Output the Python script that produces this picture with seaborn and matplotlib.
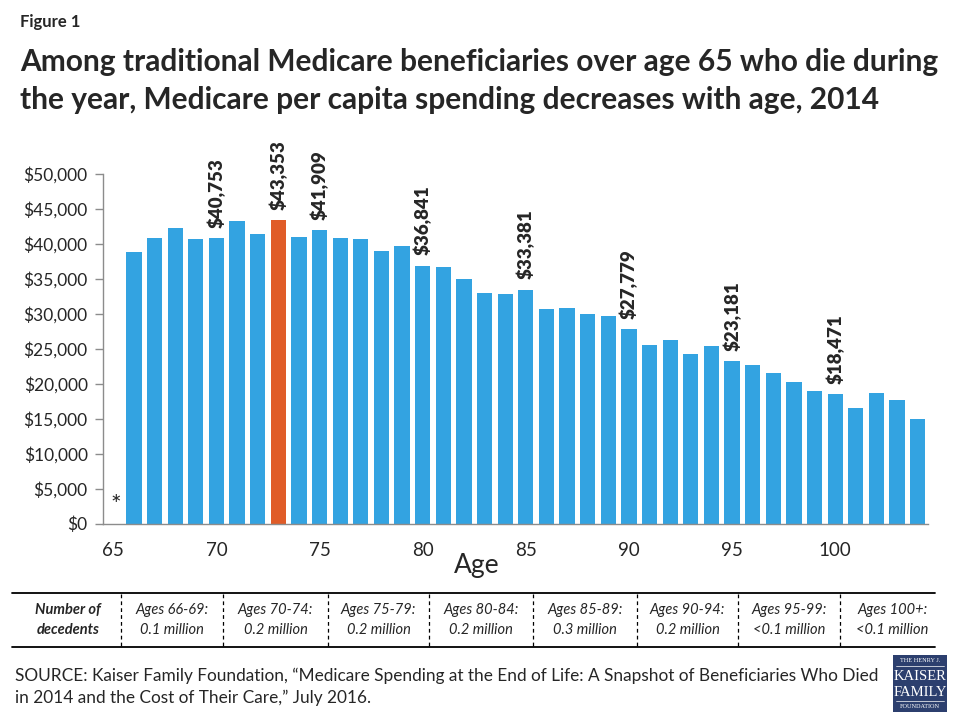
import numpy as np
import pandas as pd
import seaborn as sns
import matplotlib.pyplot as plt
import matplotlib.ticker as ticker
from matplotlib.patches import Rectangle
from matplotlib.lines import Line2D

# Medicare per capita spending by age at death, 2014 (age 65 not shown: *)
ages = list(range(65, 105))
spending = [np.nan, 38800, 40800, 42200, 40600, 40753, 43200, 41300, 43353, 40900,
            41909, 40800, 40600, 38900, 39600, 36841, 36600, 34900, 32900, 32800,
            33381, 30600, 30800, 29900, 29600, 27779, 25500, 26200, 24200, 25300,
            23181, 22600, 21500, 20200, 18900, 18471, 16500, 18600, 17600, 14900]
labeled_ages = [70, 73, 75, 80, 85, 90, 95, 100]
highlight_age = 73

group_labels = ["Ages 66-69:", "Ages 70-74:", "Ages 75-79:", "Ages 80-84:",
                "Ages 85-89:", "Ages 90-94:", "Ages 95-99:", "Ages 100+:"]
group_counts = ["0.1 million", "0.2 million", "0.2 million", "0.2 million",
                "0.3 million", "0.2 million", "<0.1 million", "<0.1 million"]

BLUE = "#33A3E1"
ORANGE = "#E05C28"
GRAY = "#8C8C8C"

sns.set_style("white")
plt.rcParams['font.family'] = ['Lato', 'DejaVu Sans']

df = pd.DataFrame({"age": ages, "spending": spending})
palette = {a: (ORANGE if a == highlight_age else BLUE) for a in ages}

fig = plt.figure(figsize=(9.6, 7.2), dpi=100)
W, H = 960, 720
ax = fig.add_axes([103 / W, 1 - 523.5 / H, (928 - 103) / W, (523.5 - 173.5) / H])

sns.barplot(data=df, x="age", y="spending", hue="age", palette=palette,
            order=ages, legend=False, width=0.74, errorbar=None,
            linewidth=0, saturation=1, ax=ax)

ax.set_xlim(-0.5, len(ages) - 0.5)
ax.set_ylim(0, 50000)
ax.yaxis.set_major_locator(ticker.MultipleLocator(5000))
ax.yaxis.set_major_formatter(ticker.StrMethodFormatter('${x:,.0f}'))

# major ticks (labels) at bar centres, minor tick marks between bars
major_pos = [ages.index(a) for a in ages if a % 5 == 0]
ax.set_xticks(major_pos)
ax.set_xticklabels([str(ages[p]) for p in major_pos])
ax.set_xticks(np.arange(-0.5, len(ages), 1), minor=True)
ax.tick_params(axis='x', which='major', length=0, pad=13, labelsize=13.5)
ax.tick_params(axis='x', which='minor', length=5, color=GRAY, width=1)
ax.tick_params(axis='y', which='major', length=6, color=GRAY, width=1,
               labelsize=12.5, pad=5, left=True)
for s in ["top", "right"]:
    ax.spines[s].set_visible(False)
for s in ["left", "bottom"]:
    ax.spines[s].set_color(GRAY)
    ax.spines[s].set_linewidth(1)
ax.set_xlabel("")
ax.set_ylabel("")

for a in labeled_ages:
    i = ages.index(a)
    v = spending[i]
    ax.text(i, v + 1500, f"${v:,.0f}", rotation=90, ha='center', va='bottom',
            fontsize=13.5, fontweight='heavy', clip_on=False)

ax.text(0.1, 900, "*", ha='center', va='bottom', fontsize=18)

fig.text(477 / W, 1 - 566 / H, "Age", ha='center', va='center', fontsize=19)

# titles
fig.text(20 / W, 1 - 22 / H, "Figure 1", fontsize=12, fontweight='bold', va='center')
fig.text(20 / W, 1 - 62 / H,
         "Among traditional Medicare beneficiaries over age 65 who die during",
         fontsize=21.5, fontweight='bold', va='center')
fig.text(20 / W, 1 - 100 / H,
         "the year, Medicare per capita spending decreases with age, 2014",
         fontsize=21.5, fontweight='bold', va='center')

# decedents table
fig.add_artist(Line2D([12 / W, 935 / W], [1 - 593 / H, 1 - 593 / H], color='black', lw=1.3))
fig.add_artist(Line2D([12 / W, 935 / W], [1 - 647 / H, 1 - 647 / H], color='black', lw=1.3))
dividers = [121, 223, 328, 429, 533, 637, 738, 840]
for x in dividers:
    fig.add_artist(Line2D([x / W, x / W], [1 - 594 / H, 1 - 646 / H], color='black',
                          lw=0.9, linestyle=(0, (3, 2.5))))
fig.text(68 / W, 1 - 610 / H, "Number of", fontsize=10.5, fontweight='bold',
         fontstyle='italic', ha='center', va='center')
fig.text(68 / W, 1 - 630 / H, "decedents", fontsize=10.5, fontweight='bold',
         fontstyle='italic', ha='center', va='center')
edges = dividers + [945]
for k in range(len(group_labels)):
    cx = (edges[k] + edges[k + 1]) / 2
    fig.text(cx / W, 1 - 610 / H, group_labels[k], fontsize=10.5, fontstyle='italic',
             ha='center', va='center')
    fig.text(cx / W, 1 - 630 / H, group_counts[k], fontsize=10.5, fontstyle='italic',
             ha='center', va='center')

# source
fig.text(15 / W, 1 - 676 / H,
         "SOURCE: Kaiser Family Foundation, \u201cMedicare Spending at the End of Life: A Snapshot of Beneficiaries Who Died",
         fontsize=12.4, va='center')
fig.text(15 / W, 1 - 698 / H,
         "in 2014 and the Cost of Their Care,\u201d July 2016.",
         fontsize=12.4, va='center')

# logo
NAVY = "#2C3F6E"
fig.add_artist(Rectangle((893 / W, 1 - 712 / H), 54 / W, 57 / H, transform=fig.transFigure,
                         facecolor=NAVY, edgecolor='none'))
logo_font = ['Liberation Serif', 'DejaVu Serif']
fig.text(920 / W, 1 - 661 / H, "THE HENRY J.", fontsize=4.5, color='white',
         ha='center', va='center', family=logo_font)
fig.text(920 / W, 1 - 676 / H, "KAISER", fontsize=10.5, color='white',
         ha='center', va='center', family=logo_font)
fig.text(920 / W, 1 - 693 / H, "FAMILY", fontsize=10.5, color='white',
         ha='center', va='center', family=logo_font)
fig.text(920 / W, 1 - 706 / H, "FOUNDATION", fontsize=4.5, color='white',
         ha='center', va='center', family=logo_font)
for yy in [666, 701]:
    fig.add_artist(Line2D([896 / W, 944 / W], [1 - yy / H, 1 - yy / H], color='white', lw=0.5))

fig.savefig("out.png", dpi=100)
